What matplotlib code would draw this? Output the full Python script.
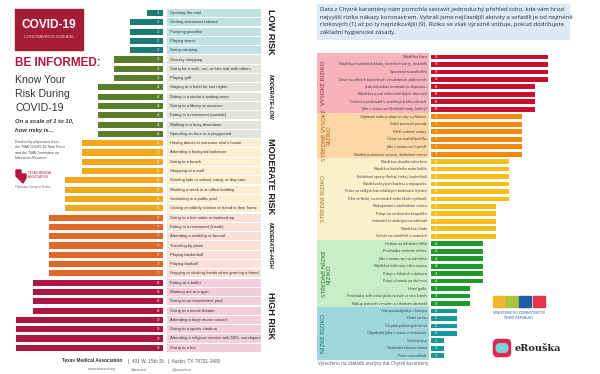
import matplotlib
matplotlib.use('Agg')
import matplotlib.pyplot as plt
from matplotlib.patches import Rectangle, FancyBboxPatch, Polygon

# left panel: Texas Medical Association ranking (1 = lowest risk)
tma_activities = [
    'Opening the mail',
    'Getting restaurant takeout',
    'Pumping gasoline',
    'Playing tennis',
    'Going camping',
    'Grocery shopping',
    'Going for a walk, run, or bike ride with others',
    'Playing golf',
    'Staying at a hotel for two nights',
    "Sitting in a doctor's waiting room",
    'Going to a library or museum',
    'Eating in a restaurant (outside)',
    'Walking in a busy downtown',
    'Spending an hour at a playground',
    "Having dinner at someone else's house",
    'Attending a backyard barbecue',
    'Going to a beach',
    'Shopping at a mall',
    'Sending kids to school, camp, or day care',
    'Working a week in an office building',
    'Swimming in a public pool',
    'Visiting an elderly relative or friend in their home',
    'Going to a hair salon or barbershop',
    'Eating in a restaurant (inside)',
    'Attending a wedding or funeral',
    'Traveling by plane',
    'Playing basketball',
    'Playing football',
    'Hugging or shaking hands when greeting a friend',
    'Eating at a buffet',
    'Working out at a gym',
    'Going to an amusement park',
    'Going to a movie theater',
    'Attending a large music concert',
    'Going to a sports stadium',
    'Attending a religious service with 500+ worshipers',
    'Going to a bar',
]
tma_scores = [1, 2, 2, 2, 2, 3, 3, 3, 4, 4, 4, 4, 4, 4, 5, 5, 5, 5, 6, 6, 6, 6,
              7, 7, 7, 7, 7, 7, 7, 8, 8, 8, 8, 9, 9, 9, 9]
tma_groups = ['LOW RISK', 'MODERATE-LOW', 'MODERATE RISK', 'MODERATE-HIGH', 'HIGH RISK']
tma_group_scores = [(1, 2), (3, 4), (5, 6), (7,), (8, 9)]

# right panel: Chytra karantena ranking (9 = highest risk)
cz_activities = [
    'Návštěva baru',
    'Návštěva hudebních klubů, tanečních párty, diskoték',
    'Sportovní soustředění',
    'Účast na velkých koncertech a hudebních událostech',
    'Jízda městskou hromadnou dopravou',
    'Návštěva poutí nebo městských slavností',
    'Cvičení a posilování v uzavřených tělocvičnách',
    'Jídlo v restauraci (švédské stoly, bufety)',
    'Objímání nebo podání si ruky s přítelem',
    'Velké pracovní porady',
    'Větší rodinné oslavy',
    'Účast na svatbě/pohřbu',
    'Jídlo v restauraci (uvnitř)',
    'Návštěva domova seniorů, alzheimer center',
    'Návštěva divadla nebo kina',
    'Návštěva kadeřníka nebo holiče',
    'Kolektivní sporty (fotbal, hokej, basketbal)',
    'Návštěva krytých bazénů a aquaparků',
    'Práce ve velkých kancelářských budovách (týden)',
    'Děti ve škole, na internátě nebo škole v přírodě',
    'Nakupování v obchodním centru',
    'Pobyt na venkovním koupališti',
    'Grilování se známými na zahradě',
    'Návštěva úřadu',
    'Večeře na návštěvě u známých',
    'Hodina na dětském hřišti',
    'Procházka centrem města',
    'Jídlo v restauraci na zahrádce',
    'Návštěva knihovny nebo muzea',
    'Pobyt v čekárně u doktora',
    'Pobyt v hotelu na dvě noci',
    'Hraní golfu',
    'Procházka, běh nebo jízda na kole ve více lidech',
    'Nákup potravin v malém a středním obchodě',
    'Trampování/pobyt v kempu',
    'Hraní tenisu',
    'Čerpání pohonných hmot',
    'Objednání jídla s sebou v restauraci',
    'Venčení psa',
    'Sledování televize doma',
    'Práce na počítači',
]
cz_scores = [9, 9, 9, 9, 8, 8, 8, 8, 7, 7, 7, 7, 7, 7, 6, 6, 6, 6, 6, 6,
             5, 5, 5, 5, 5, 4, 4, 4, 4, 4, 4, 3, 3, 3, 2, 2, 2, 2, 1, 1, 1]
cz_groups = ['VYSOKÉ RIZIKO', 'STŘEDNĚ VYSOKÉ\nRIZIKO', 'STŘEDNÍ RIZIKO',
             'STŘEDNĚ NÍZKÉ\nRIZIKO', 'NÍZKÉ RIZIKO']
cz_group_scores = [(9, 8), (7,), (6, 5), (4, 3), (2, 1)]

cz_intro = ['Data z Chytré karantény nám pomohla sestavit jednoduchý přehled toho, kde vám hrozí',
            'nejvyšší riziko nákazy koronavirem. Vybrali jsme nejčastější aktivity a seřadili je od nejméně',
            'rizikových (1) až po ty nejrizikovější (9). Riziko se však výrazně snižuje, pokud dodržujete',
            'základní hygienické zásady.']

tma_bar = ['#1c7a72', '#5a7d2c', '#f2a71c', '#e0692a', '#ae1540']
tma_bg = ['#bfe3e4', '#e2e5dd', '#fcefd1', '#fbe0d5', '#f3cfdb']
cz_bar = ['#c8102e', '#f28b0c', '#fbbd19', '#1f9a2a', '#17969b']
cz_bg = ['#f6b3bb', '#fcd7a4', '#fdf0cd', '#c9eec7', '#9ed7da']
cz_head = ['#9c1a2a', '#a8560c', '#8a6a10', '#1d6b22', '#16676b']

LIB = 'Liberation Sans'
OPEN = ['Open Sans', 'DejaVu Sans']
W, H = 600, 374


def group_of(score, groups):
	for i, g in enumerate(groups):
		if score in g:
			return i


fig = plt.figure(figsize=(6, 3.74), dpi=100)
fig.patch.set_facecolor('white')


def px_axes(x0, y0, x1, y1):
	a = fig.add_axes([x0 / W, 1 - y1 / H, (x1 - x0) / W, (y1 - y0) / H])
	a.axis('off')
	return a


# ---------------- left panel ----------------
n = len(tma_scores)
y = list(range(n))
gi = [group_of(s, tma_group_scores) for s in tma_scores]
top, pitch = 13.0, 9.3
y0, y1 = top - pitch / 2, top + (n - 0.5) * pitch

ax = px_axes(0, y0, 163, y1)
ax.barh(y, tma_scores, height=0.66, color=[tma_bar[g] for g in gi])
ax.set_xlim(10, 0)
ax.set_ylim(n - 0.5, -0.5)
for i, s in enumerate(tma_scores):
	ax.text(0.3, i, str(s), ha='center', va='center', color='white', fontsize=3.2, family=LIB)

lab = px_axes(167, y0, 261, y1)
lab.barh(y, 1, height=0.88, color=[tma_bg[g] for g in gi])
lab.set_xlim(0, 1)
lab.set_ylim(n - 0.5, -0.5)
for i, t in enumerate(tma_activities):
	lab.text(0.035, i, t, ha='left', va='center', fontsize=3.0, color='#333333', family=LIB)
for k, name in enumerate(tma_groups):
	rows = [i for i in y if gi[i] == k]
	mid = (rows[0] + rows[-1]) / 2.0
	small = '-' in name
	lab.text(1.1, mid, name, rotation=-90, ha='center', va='center',
	         fontsize=4.0 if small else 6.6, fontweight='bold',
	         fontstyle='italic' if small else 'normal', family=LIB,
	         color='#1a1a1a', clip_on=False)

# overlay for the text blocks
ov = px_axes(0, 0, W, H)
ov.set_xlim(0, W)
ov.set_ylim(H, 0)

ov.add_patch(Rectangle((15, 9), 68, 41, color='#a51c36'))
ov.text(49, 25, 'COVID-19', ha='center', va='center', color='white',
        fontsize=8.6, fontweight='bold', family=LIB)
ov.text(49, 37, 'CORONAVIRUS DISEASE', ha='center', va='center', color='#f2d0d6',
        fontsize=3.0, family=LIB)
ov.text(15, 63, 'BE INFORMED:', ha='left', va='center', color='#b3173d',
        fontsize=8.5, fontweight='bold', family=LIB)
for j, t in enumerate(['Know Your', 'Risk During', 'COVID-19']):
	ov.text(15, 80 + j * 14, t, ha='left', va='center', color='#333333',
	        fontsize=7.6, family=LIB)
ov.text(15, 121, 'On a scale of 1 to 10,', ha='left', va='center', color='#333333',
        fontsize=4.2, fontstyle='italic', fontweight='bold', family=LIB)
ov.text(15, 130, 'how risky is...', ha='left', va='center', color='#333333',
        fontsize=4.2, fontstyle='italic', fontweight='bold', family=LIB)
for j, t in enumerate(['Ranked by physicians from', 'the TMA COVID-19 Task Force',
                       'and the TMA Committee on', 'Infectious Diseases']):
	ov.text(15, 142 + j * 5.3, t, ha='left', va='center', color='#444444',
	        fontsize=2.6, fontstyle='italic', family=LIB)
ov.add_patch(Polygon([(16, 170), (21, 170), (21, 174), (26, 174), (26, 178),
                      (23, 183), (20, 180), (16, 176)], color='#b3173d'))
ov.text(28, 173, 'TEXAS MEDICAL', ha='left', va='center', color='#b3173d', fontsize=2.2, family=LIB)
ov.text(28, 176.5, 'ASSOCIATION', ha='left', va='center', color='#b3173d', fontsize=2.2, family=LIB)
ov.text(15, 187, 'Physicians Caring for Texans', ha='left', va='center', color='#666666',
        fontsize=2.0, family=LIB)

ov.text(62, 361, 'Texas Medical Association', ha='left', va='center', color='#333333',
        fontsize=3.4, fontweight='bold', family=LIB)
ov.text(128, 361, '|  401 W. 15th St.  |  Austin, TX 78701-1680', ha='left', va='center',
        color='#555555', fontsize=3.4, family=LIB)
ov.text(88, 369, 'www.texmed.org', ha='left', va='center', color='#666666', fontsize=2.6, family=LIB)
ov.text(131, 369, '@texmed', ha='left', va='center', color='#666666', fontsize=2.6, family=LIB)
ov.text(172, 369, '@wearetma', ha='left', va='center', color='#666666', fontsize=2.6, family=LIB)

# ---------------- right panel ----------------
ov.add_patch(Rectangle((317, 4), 252, 35, color='#dceaf6'))
for j, t in enumerate(cz_intro):
	ov.text(320, 9.5 + j * 7.6, t, ha='left', va='center', color='#2b2b2b',
	        fontsize=4.3, family=OPEN)

m = len(cz_scores)
yc = list(range(m))
ci = [group_of(s, cz_group_scores) for s in cz_scores]
top2, pitch2 = 57.0, 7.47
z0, z1 = top2 - pitch2 / 2, top2 + (m - 0.5) * pitch2

bx = px_axes(431, z0, 561, z1)
bx.barh(yc, cz_scores, height=0.64, color=[cz_bar[g] for g in ci])
bx.set_xlim(0, 10)
bx.set_ylim(m - 0.5, -0.5)
for i, s in enumerate(cz_scores):
	bx.text(0.35, i, str(s), ha='center', va='center', color='white', fontsize=2.8)

lb = px_axes(317, z0, 429, z1)
lb.barh(yc, 1, height=1.0, color=[cz_bg[g] for g in ci])
lb.set_xlim(0, 1)
lb.set_ylim(m - 0.5, -0.5)
for i, t in enumerate(cz_activities):
	lb.text(0.98, i, t, ha='right', va='center', fontsize=2.6, color='#333333', family=OPEN)
for k, name in enumerate(cz_groups):
	rows = [i for i in yc if ci[i] == k]
	mid = (rows[0] + rows[-1]) / 2.0
	xx = 0.085 if '\n' in name else 0.06
	lb.text(xx, mid, name, rotation=90, ha='center', va='center', fontsize=4.6,
	        color=cz_head[k], family=OPEN, linespacing=1.0)

ov.text(318, 364, 'Vytvořeno na základě analýzy dat Chytré karantény.', ha='left',
        va='center', color='#555555', fontsize=3.3, family=OPEN)

# ministry logo
for j, c in enumerate(['#f2b530', '#a7c43c', '#1f5ea8', '#e5344b']):
	ov.add_patch(Rectangle((493 + j * 13.2, 296), 12, 11, color=c))
ov.text(519, 313, 'MINISTERSTVO ZDRAVOTNICTVÍ', ha='center', va='center',
        color='#1f5ea8', fontsize=2.3)
ov.text(519, 318, 'ČESKÉ REPUBLIKY', ha='center', va='center', color='#1f5ea8', fontsize=2.3)

# eRouska logo
ov.add_patch(FancyBboxPatch((494, 340), 16, 16, boxstyle='round,pad=0.5,rounding_size=4',
                            color='#e8254d'))
ov.add_patch(FancyBboxPatch((496.5, 344), 11, 8, boxstyle='round,pad=0.2,rounding_size=3',
                            color='#7dd3da'))
ov.text(515, 348.5, 'eRouška', ha='left', va='center', color='#222222', fontsize=7,
        family='DejaVu Serif', fontweight='bold')

fig.savefig('out.png', dpi=100, facecolor='white')
